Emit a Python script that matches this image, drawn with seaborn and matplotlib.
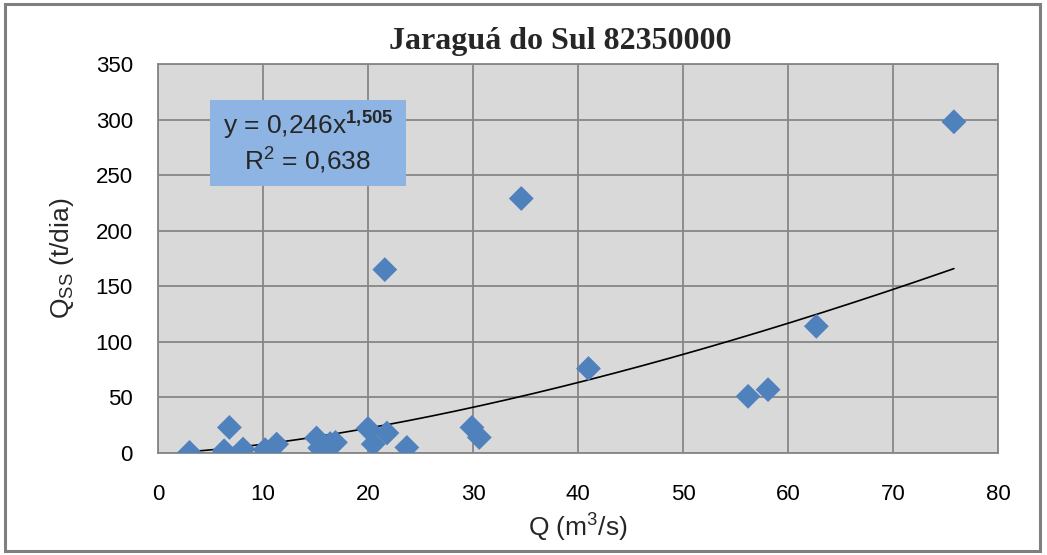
import numpy as np
import pandas as pd
import seaborn as sns
import matplotlib
matplotlib.use("Agg")
import matplotlib.pyplot as plt
from matplotlib.patches import Rectangle

# Discharge (m3/s) and suspended sediment load (t/dia)
vazao = [3.0, 6.3, 6.8, 8.1, 10.2, 11.3, 15.1, 15.4, 16.4, 16.9, 20.0, 20.5,
         21.6, 21.8, 23.7, 29.9, 30.6, 34.6, 41.0, 56.2, 58.1, 62.7, 75.8]
carga = [0.5, 2.0, 23.0, 3.5, 3.0, 8.0, 13.5, 4.5, 8.5, 9.5, 22.0, 8.0,
         165.0, 18.0, 5.0, 23.0, 14.0, 229.0, 76.0, 51.0, 57.0, 114.0, 298.0]

# Power-law trend coefficients
coef_a = 0.246
coef_b = 1.505
r2 = 0.638

x_ticks = [0, 10, 20, 30, 40, 50, 60, 70, 80]
y_ticks = [0, 50, 100, 150, 200, 250, 300, 350]

df = pd.DataFrame({"Q": vazao, "Qss": carga})

sns.set_style("white")
sans = ["Liberation Sans", "DejaVu Sans"]
plt.rcParams["font.family"] = sans
plt.rcParams["mathtext.fontset"] = "custom"
plt.rcParams["mathtext.rm"] = "Liberation Sans"
plt.rcParams["mathtext.it"] = "Liberation Sans"
plt.rcParams["mathtext.bf"] = "Liberation Sans:bold"

fig = plt.figure(figsize=(10.47, 5.55), dpi=100)
ax = fig.add_axes([0.1509, 0.1838, 0.8023, 0.7009])

grid_c = "#868686"
ax.set_facecolor("#D9D9D9")

# trend curve
xs = np.linspace(min(vazao), max(vazao), 200)
ax.plot(xs, coef_a * xs ** coef_b, color="black", lw=1.2, zorder=2)

sns.scatterplot(data=df, x="Q", y="Qss", marker="D", s=160, color="#4F81BD",
                edgecolor="none", ax=ax, zorder=3)

ax.set_xlim(0, 80)
ax.set_ylim(0, 350)
ax.set_xticks(x_ticks)
ax.set_yticks(y_ticks)
ax.grid(True, color=grid_c, lw=1.3, zorder=0)
ax.set_axisbelow(True)
for s in ax.spines.values():
    s.set_color(grid_c)
    s.set_linewidth(1.3)
ax.tick_params(axis="both", direction="out", length=8, width=1.3, color=grid_c,
               labelsize=16, labelcolor="black", pad=10)
ax.tick_params(axis="x", pad=14)

ax.set_xlabel("Q (m$^3$/s)", fontsize=19, labelpad=5)
ax.set_ylabel("Q$_{\\mathrm{SS}}$ (t/dia)", fontsize=19, labelpad=14)

fig.text(0.535, 0.925, "Jaraguá do Sul 82350000", ha="center", va="center",
         fontsize=23, fontweight="bold", family=["Liberation Serif", "DejaVu Serif"])

# equation box
ax.add_patch(Rectangle((0.0619, 0.6864), 0.2333, 0.2211, transform=ax.transAxes,
                       facecolor="#8DB4E2", edgecolor="none", zorder=4))
ax.text(0.1786, 0.842, "y = 0,246x$^{\\mathbf{1{,}505}}$", transform=ax.transAxes,
        ha="center", va="center", fontsize=19, zorder=5)
ax.text(0.1786, 0.752, "R$^2$ = 0,638", transform=ax.transAxes,
        ha="center", va="center", fontsize=19, zorder=5)

# outer frame
fig.patches.append(Rectangle((0.005, 0.008), 0.988, 0.984, transform=fig.transFigure,
                             fill=False, edgecolor="#7F7F7F", lw=2.2))

fig.savefig("out.png", dpi=100)
